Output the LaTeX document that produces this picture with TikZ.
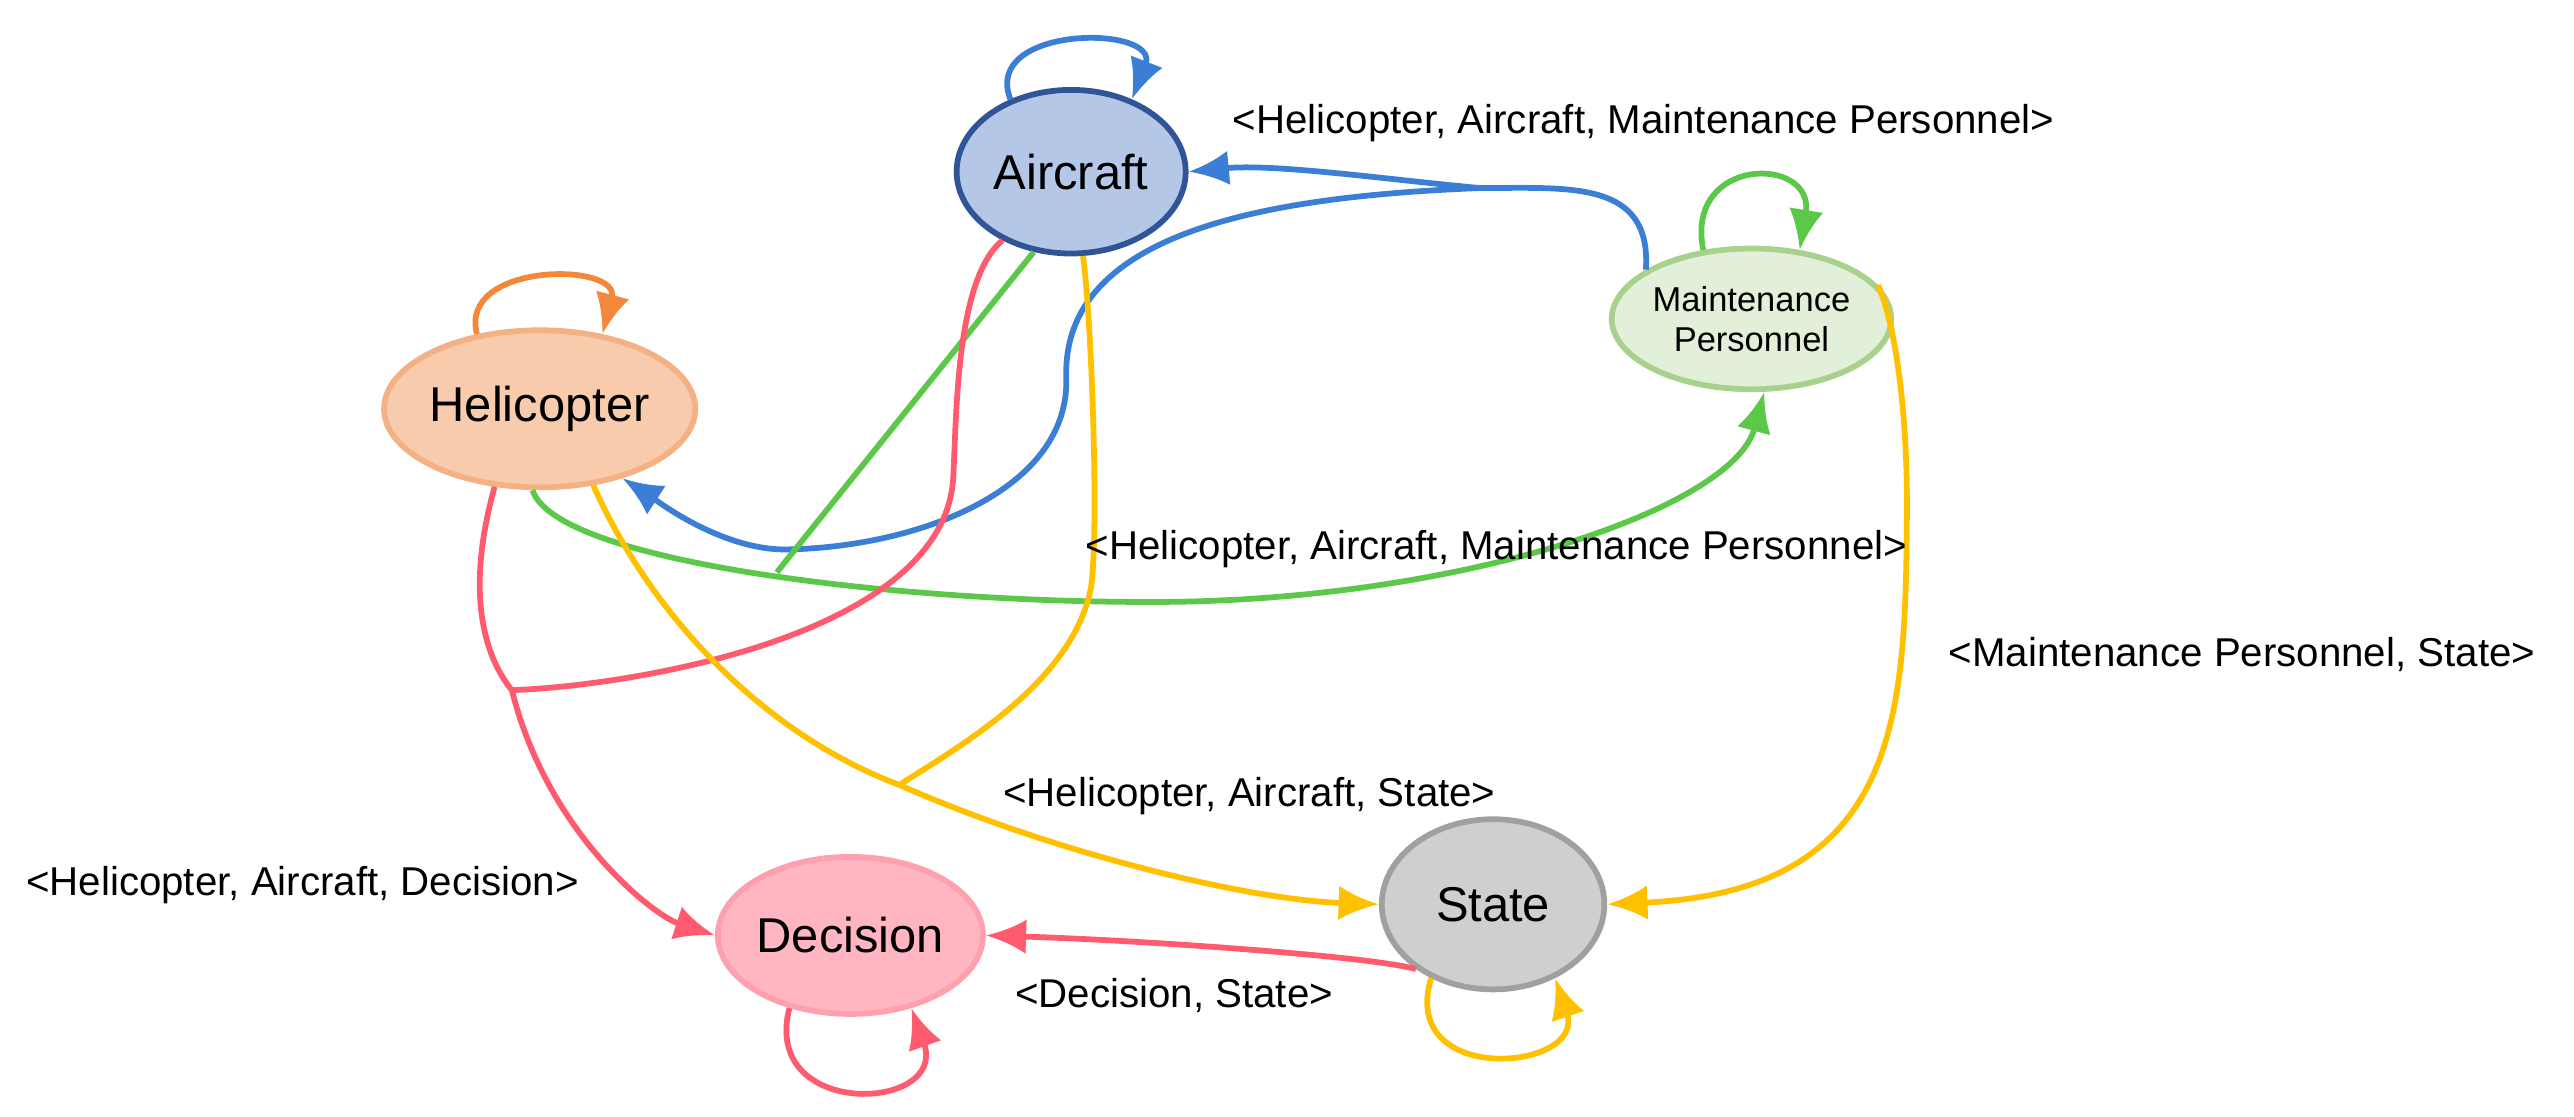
\documentclass[tikz,border=0pt]{standalone}
\usepackage{fontspec}
\setmainfont{Liberation Sans}
\usetikzlibrary{arrows.meta,shapes.geometric}
\definecolor{cb}{HTML}{3A7FD5}
\definecolor{co}{HTML}{F4883A}
\definecolor{cg}{HTML}{5CC84A}
\definecolor{cr}{HTML}{FF5A6E}
\definecolor{cy}{HTML}{FFC000}
\begin{document}
\begin{tikzpicture}[x=0.01cm,y=-0.01cm,
 st/.style={draw,ellipse,line width=1pt,inner sep=0pt},
 e/.style={line width=1pt,-{Latex[length=7pt,width=6pt]}},
 l/.style={line width=1pt},
 lab/.style={font=\fontsize{7}{8}\selectfont,inner sep=1pt}]
\useasboundingbox (0,0) rectangle (1574,683);
\node[st,fill={rgb,255:red,180;green,199;blue,231},draw={rgb,255:red,47;green,85;blue,151},minimum width=1.4cm,minimum height=1cm,font=\fontsize{8.5}{10}\selectfont] (A) at (655,105) {Aircraft};
\node[st,fill={rgb,255:red,248;green,203;blue,173},draw={rgb,255:red,244;green,177;blue,131},minimum width=1.4cm,minimum height=0.96cm,font=\fontsize{8.5}{10}\selectfont] (H) at (330,250) {Helicopter};
\node[st,fill={rgb,255:red,226;green,240;blue,217},draw={rgb,255:red,169;green,209;blue,142},minimum width=1.18cm,minimum height=0.86cm,font=\fontsize{6}{7}\selectfont,align=center] (M) at (1071,195) {Maintenance\\Personnel};
\node[st,fill={rgb,255:red,255;green,182;blue,193},draw={rgb,255:red,255;green,160;blue,175},minimum width=1.36cm,minimum height=0.96cm,font=\fontsize{8.5}{10}\selectfont] (D) at (520,572) {Decision};
\node[st,fill={rgb,255:red,208;green,206;blue,206},draw={rgb,255:red,160;green,160;blue,160},minimum width=1.36cm,minimum height=1.04cm,font=\fontsize{8.5}{10}\selectfont] (S) at (913,553) {State};
\coordinate (bj) at (905,115);
\coordinate (gj) at (475,350);
\coordinate (rj) at (313,422);
\coordinate (yj) at (550,480);
% self loops
\draw[e,cb] (A.130) .. controls (600,15) and (710,15) .. (A.50);
\draw[e,co] (H.130) .. controls (280,160) and (380,160) .. (H.50);
\draw[e,cg] (M.125) .. controls (1030,95) and (1110,95) .. (M.55);
\draw[e,cr] (D.230) .. controls (465,685) and (580,680) .. (D.310);
\draw[e,cy] (S.230) .. controls (855,665) and (970,655) .. (S.310);
% blue
\draw[l,cb] (M.155) .. controls (1010,110) and (960,115) .. (bj);
\draw[e,cb] (bj) .. controls (850,110) and (780,100) .. (A.east);
\draw[e,cb] (bj) .. controls (780,120) and (650,140) .. (652,230) .. controls (655,300) and (560,335) .. (480,336) .. controls (440,336) and (400,305) .. (H.-40);
% green
\draw[e,cg] (H.-95) .. controls (340,345) and (560,370) .. (720,368) .. controls (900,365) and (1060,310) .. (M.-80);
\draw[l,cg] (A.-115) -- (gj);
% red
\draw[l,cr] (A.-135) .. controls (585,170) and (585,250) .. (583,290) .. controls (580,390) and (380,420) .. (rj);
\draw[e,cr] (H.-120) .. controls (285,360) and (295,400) .. (rj) .. controls (335,510) and (400,560) .. (D.west);
\draw[e,cr] (S.-140) .. controls (840,585) and (700,575) .. (D.east);
% yellow
\draw[l,cy] (A.-82) .. controls (668,200) and (672,330) .. (667,360) .. controls (655,420) and (580,460) .. (yj);
\draw[e,cy] (H.-55) .. controls (400,380) and (470,450) .. (yj) .. controls (640,520) and (760,550) .. (S.west);
\draw[e,cy] (M.15) .. controls (1160,200) and (1167,260) .. (1166,320) .. controls (1165,440) and (1160,545) .. (S.east);
% labels
\node[lab] (l1) at (1005,75) {<Helicopter, Aircraft, Maintenance Personnel>};
\node[lab] (l2) at (915,336) {<Helicopter, Aircraft, Maintenance Personnel>};
\node[lab] (l3) at (1371,400) {<Maintenance Personnel, State>};
\node[lab] (l4) at (764,487) {<Helicopter, Aircraft, State>};
\node[lab] (l5) at (185,541) {<Helicopter, Aircraft, Decision>};
\node[lab] (l6) at (718,609) {<Decision, State>};
\end{tikzpicture}
\end{document}
